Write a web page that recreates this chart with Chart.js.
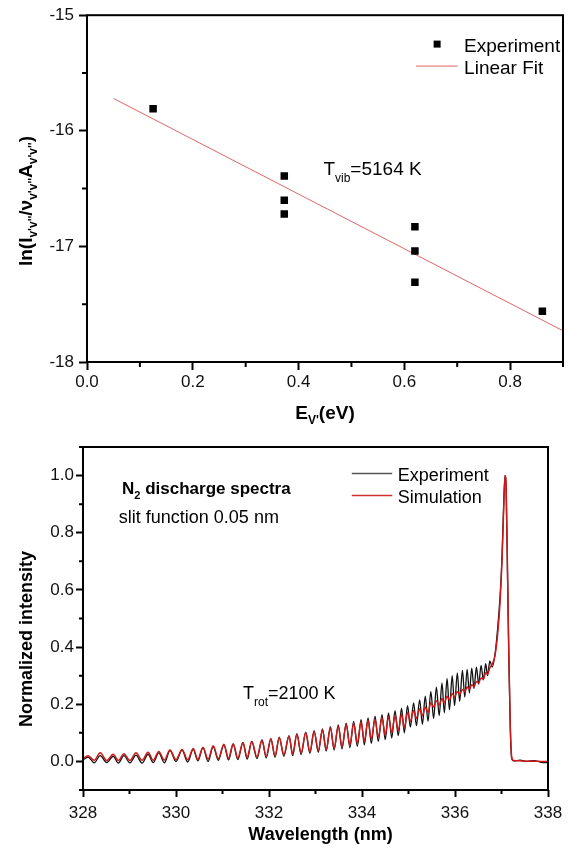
<!DOCTYPE html>
<html>
<head>
<meta charset="utf-8">
<script src="https://cdn.jsdelivr.net/npm/chart.js@4.4.1/dist/chart.umd.min.js"></script>
<style>
  html, body { margin: 0; padding: 0; background: #fff; }
  #top { position: absolute; left: 0; top: 0; width: 574px; height: 425px; }
  #bottom { position: absolute; left: 0; top: 425px; width: 574px; height: 424px; }
</style>
</head>
<body>
<div id="top"><canvas id="vib"></canvas></div>
<div id="bottom"><canvas id="spec"></canvas></div>
<script>
// Boltzmann plot (top)
const expE = [0.125, 0.373, 0.373, 0.373, 0.62, 0.62, 0.62, 0.861]
const expLn = [-15.81, -16.39, -16.60, -16.72, -16.83, -17.04, -17.31, -17.56]
const fitE = [0.05, 0.9]
const fitLn = [-15.72, -17.73]
const vibXTicks = [0, 0.2, 0.4, 0.6, 0.8]
const vibXMinor = [0.1, 0.3, 0.5, 0.7, 0.9]
const vibYTicks = [-18, -17, -16, -15]
const vibYMinor = [-17.5, -16.5, -15.5]

// N2 spectrum (bottom), peaks and troughs
const wl = [
  328.00, 328.11, 328.24, 328.37, 328.51, 328.65, 328.76, 328.88, 329.01, 329.14,
  329.27, 329.40, 329.51, 329.63, 329.75, 329.87, 330.00, 330.13, 330.25, 330.37,
  330.47, 330.58, 330.69, 330.80, 330.91, 331.03, 331.13, 331.23, 331.33, 331.44,
  331.53, 331.63, 331.74, 331.85, 331.94, 332.04, 332.13, 332.22, 332.32, 332.43,
  332.51, 332.60, 332.69, 332.79, 332.88, 332.97, 333.06, 333.15, 333.23, 333.32,
  333.40, 333.49, 333.57, 333.66, 333.74, 333.82, 333.90, 333.98, 334.05, 334.13,
  334.20, 334.28, 334.35, 334.43, 334.50, 334.57, 334.64, 334.71, 334.78, 334.85,
  334.91, 334.98, 335.04, 335.11, 335.17, 335.24, 335.30, 335.36, 335.42, 335.48,
  335.54, 335.60, 335.66, 335.72, 335.77, 335.83, 335.88, 335.94, 335.99, 336.05,
  336.10, 336.16, 336.21, 336.26, 336.31, 336.36, 336.41, 336.46, 336.51, 336.56,
  336.61, 336.66, 336.70, 336.75, 336.80, 336.86, 336.92, 336.97, 337.01, 337.04,
  337.075, 337.10, 337.13, 337.16, 337.19, 337.22, 337.26, 337.40, 337.55, 337.70,
  337.85, 338.00
]
const simInt = [
  0.010, 0.020, 0.004, 0.030, 0.003, 0.025, 0.003, 0.027, 0.003, 0.030,
  0.004, 0.032, 0.004, 0.035, 0.005, 0.040, 0.006, 0.042, 0.006, 0.045,
  0.007, 0.050, 0.008, 0.055, 0.010, 0.060, 0.011, 0.062, 0.012, 0.066,
  0.014, 0.070, 0.016, 0.074, 0.018, 0.078, 0.020, 0.083, 0.024, 0.088,
  0.027, 0.095, 0.030, 0.100, 0.034, 0.105, 0.038, 0.110, 0.042, 0.118,
  0.046, 0.122, 0.052, 0.128, 0.058, 0.133, 0.064, 0.138, 0.070, 0.143,
  0.078, 0.147, 0.085, 0.152, 0.092, 0.156, 0.100, 0.160, 0.108, 0.165,
  0.117, 0.172, 0.140, 0.178, 0.150, 0.184, 0.160, 0.190, 0.172, 0.205,
  0.190, 0.212, 0.197, 0.220, 0.205, 0.228, 0.215, 0.238, 0.225, 0.245,
  0.235, 0.252, 0.243, 0.260, 0.252, 0.268, 0.262, 0.280, 0.275, 0.292,
  0.288, 0.310, 0.305, 0.328, 0.340, 0.370, 0.450, 0.560, 0.700, 0.850,
  1.000, 0.960, 0.660, 0.350, 0.120, 0.015, 0.003, 0.002, 0.001, 0.001,
  0.000, 0.000
]
const expInt = [
  0.005, 0.015, -0.005, 0.020, -0.004, 0.018, -0.006, 0.020, -0.005, 0.022,
  -0.006, 0.025, -0.004, 0.030, -0.005, 0.038, 0.000, 0.040, -0.002, 0.042,
  0.002, 0.048, 0.000, 0.052, 0.004, 0.058, 0.005, 0.060, 0.006, 0.066,
  0.008, 0.070, 0.010, 0.075, 0.012, 0.080, 0.014, 0.085, 0.018, 0.090,
  0.020, 0.097, 0.024, 0.102, 0.028, 0.108, 0.032, 0.114, 0.036, 0.122,
  0.040, 0.128, 0.044, 0.134, 0.048, 0.140, 0.053, 0.146, 0.058, 0.152,
  0.063, 0.158, 0.070, 0.164, 0.076, 0.170, 0.082, 0.178, 0.090, 0.186,
  0.100, 0.195, 0.120, 0.205, 0.125, 0.215, 0.130, 0.228, 0.140, 0.245,
  0.150, 0.260, 0.160, 0.275, 0.170, 0.290, 0.180, 0.300, 0.195, 0.310,
  0.210, 0.318, 0.225, 0.322, 0.240, 0.326, 0.255, 0.330, 0.270, 0.336,
  0.285, 0.342, 0.300, 0.352, 0.330, 0.375, 0.470, 0.580, 0.710, 0.860,
  1.000, 0.950, 0.650, 0.340, 0.110, 0.010, 0.002, 0.004, 0.000, 0.003,
  -0.003, -0.004
]
const specXTicks = [328, 330, 332, 334, 336, 338]
const specXMinor = [329, 331, 333, 335, 337]
const specYTicks = [0, 0.2, 0.4, 0.6, 0.8, 1.0]
const specYMinor = [-0.1, 0.1, 0.3, 0.5, 0.7, 0.9, 1.1]

const FONT = "'Liberation Sans', Arial, sans-serif"
Chart.defaults.font.family = FONT
Chart.defaults.color = '#000'

const tickGrid = (len) => ({
  display: true,
  drawOnChartArea: false,
  drawTicks: true,
  tickLength: len,
  tickWidth: 2,
  tickColor: '#000',
  color: '#000'
})

// draw text made of pieces, some lowered as subscripts
// part = [text, size, bold, dy]
function drawParts (ctx, x, y, parts, align) {
  let w = 0
  parts.forEach(p => {
    ctx.font = (p[2] ? 'bold ' : '') + p[1] + 'px ' + FONT
    w += ctx.measureText(p[0]).width
  })
  let cx = align === 'center' ? x - w / 2 : x
  ctx.textAlign = 'left'
  ctx.textBaseline = 'alphabetic'
  parts.forEach(p => {
    ctx.font = (p[2] ? 'bold ' : '') + p[1] + 'px ' + FONT
    ctx.fillText(p[0], cx, y + (p[3] || 0))
    cx += ctx.measureText(p[0]).width
  })
}

function drawFrame (chart, xMinor, yMinor, len) {
  const { ctx, chartArea: a, scales: { x, y } } = chart
  ctx.strokeStyle = '#000'
  ctx.lineWidth = 2
  ctx.strokeRect(a.left, a.top, a.right - a.left, a.bottom - a.top)
  ctx.beginPath()
  xMinor.forEach(v => {
    const px = x.getPixelForValue(v)
    ctx.moveTo(px, a.bottom)
    ctx.lineTo(px, a.bottom + len)
  })
  yMinor.forEach(v => {
    const py = y.getPixelForValue(v)
    ctx.moveTo(a.left, py)
    ctx.lineTo(a.left - len, py)
  })
  ctx.stroke()
}

const vibDecor = {
  id: 'vibDecor',
  afterDraw (chart) {
    const { ctx, chartArea: a, scales: { x, y } } = chart
    ctx.save()
    drawFrame(chart, vibXMinor, vibYMinor, 5)
    ctx.fillStyle = '#000'

    // legend
    ctx.fillRect(x.getPixelForValue(0.662) - 3.5, y.getPixelForValue(-15.25) - 3.5, 7, 7)
    ctx.strokeStyle = '#e06666'
    ctx.lineWidth = 1
    ctx.beginPath()
    ctx.moveTo(x.getPixelForValue(0.622), y.getPixelForValue(-15.44))
    ctx.lineTo(x.getPixelForValue(0.701), y.getPixelForValue(-15.44))
    ctx.stroke()
    drawParts(ctx, x.getPixelForValue(0.713), y.getPixelForValue(-15.26) + 7, [['Experiment', 19]])
    drawParts(ctx, x.getPixelForValue(0.713), y.getPixelForValue(-15.445) + 7, [['Linear Fit', 19]])

    drawParts(ctx, x.getPixelForValue(0.447), y.getPixelForValue(-16.325) + 7,
      [['T', 19], ['vib', 12, false, 7], ['=5164 K', 19]])

    // axis titles
    drawParts(ctx, (a.left + a.right) / 2, 419,
      [['E', 19, true], ["V'", 12, true, 5], ['(eV)', 19, true]], 'center')
    ctx.translate(32, 201)
    ctx.rotate(-Math.PI / 2)
    drawParts(ctx, 0, 0, [
      ['ln(I', 19, true], ["v'v''", 12, true, 5], ['/\u03bd', 19, true],
      ["v'v''", 12, true, 5], ['A', 19, true], ["v'v''", 12, true, 5], [')', 19, true]
    ], 'center')
    ctx.restore()
  }
}

new Chart(document.getElementById('vib'), {
  type: 'scatter',
  data: {
    datasets: [
      {
        label: 'Experiment',
        data: expE.map((e, i) => ({ x: e, y: expLn[i] })),
        pointStyle: 'rect',
        pointRadius: 5.3,
        backgroundColor: '#000',
        borderColor: '#000',
        borderWidth: 0
      },
      {
        label: 'Linear Fit',
        type: 'line',
        data: fitE.map((e, i) => ({ x: e, y: fitLn[i] })),
        borderColor: '#e06666',
        borderWidth: 1,
        pointRadius: 0,
        fill: false
      }
    ]
  },
  options: {
    responsive: true,
    maintainAspectRatio: false,
    animation: false,
    devicePixelRatio: 1,
    layout: { padding: { top: 11, right: 11, left: 0, bottom: 0 } },
    plugins: { legend: { display: false }, tooltip: { enabled: false } },
    scales: {
      x: {
        type: 'linear',
        min: 0,
        max: 0.9,
        afterFit: s => { s.height = 63 },
        afterBuildTicks: s => { s.ticks = vibXTicks.map(v => ({ value: v })) },
        ticks: { callback: v => v.toFixed(1), padding: 2, font: { size: 17 }, color: '#111', maxRotation: 0 },
        grid: tickGrid(8),
        border: { display: false }
      },
      y: {
        type: 'linear',
        min: -18,
        max: -15,
        afterFit: s => { s.width = 87 },
        afterBuildTicks: s => { s.ticks = vibYTicks.map(v => ({ value: v })) },
        ticks: { callback: v => String(v), padding: 5, font: { size: 17 }, color: '#111' },
        grid: tickGrid(8),
        border: { display: false }
      }
    }
  },
  plugins: [vibDecor]
})

const specDecor = {
  id: 'specDecor',
  afterDraw (chart) {
    const { ctx, chartArea: a, scales: { x, y } } = chart
    ctx.save()
    drawFrame(chart, specXMinor, specYMinor, 4)
    ctx.fillStyle = '#000'

    // legend
    ctx.lineWidth = 1.5
    ctx.strokeStyle = '#555'
    ctx.beginPath()
    ctx.moveTo(x.getPixelForValue(333.78), y.getPixelForValue(1.007))
    ctx.lineTo(x.getPixelForValue(334.65), y.getPixelForValue(1.007))
    ctx.stroke()
    ctx.strokeStyle = '#d03030'
    ctx.beginPath()
    ctx.moveTo(x.getPixelForValue(333.78), y.getPixelForValue(0.93))
    ctx.lineTo(x.getPixelForValue(334.65), y.getPixelForValue(0.93))
    ctx.stroke()
    drawParts(ctx, x.getPixelForValue(334.77), y.getPixelForValue(1.007) + 7, [['Experiment', 18]])
    drawParts(ctx, x.getPixelForValue(334.77), y.getPixelForValue(0.93) + 7, [['Simulation', 18]])

    drawParts(ctx, x.getPixelForValue(328.84), y.getPixelForValue(0.958) + 6,
      [['N', 17, true], ['2', 11, true, 5], [' discharge spectra', 17, true]])
    drawParts(ctx, x.getPixelForValue(328.77), y.getPixelForValue(0.856) + 6, [['slit function 0.05 nm', 18]])
    drawParts(ctx, x.getPixelForValue(331.44), y.getPixelForValue(0.239) + 6,
      [['T', 18], ['rot', 12, false, 7], ['=2100 K', 18]])

    // axis titles
    drawParts(ctx, (a.left + a.right) / 2 + 5, 415, [['Wavelength (nm)', 18, true]], 'center')
    ctx.translate(32, 214)
    ctx.rotate(-Math.PI / 2)
    drawParts(ctx, 0, 0, [['Normalized intensity', 18, true]], 'center')
    ctx.restore()
  }
}

new Chart(document.getElementById('spec'), {
  type: 'line',
  data: {
    datasets: [
      {
        label: 'Simulation',
        data: wl.map((w, i) => ({ x: w, y: simInt[i] })),
        borderColor: '#cc1a1a',
        borderWidth: 1.5,
        pointRadius: 0,
        cubicInterpolationMode: 'monotone',
        fill: false
      },
      {
        label: 'Experiment',
        data: wl.map((w, i) => ({ x: w, y: expInt[i] })),
        borderColor: '#111',
        borderWidth: 1.3,
        pointRadius: 0,
        cubicInterpolationMode: 'monotone',
        fill: false
      }
    ]
  },
  options: {
    responsive: true,
    maintainAspectRatio: false,
    animation: false,
    devicePixelRatio: 1,
    layout: { padding: { top: 22, right: 26, left: 0, bottom: 0 } },
    plugins: { legend: { display: false }, tooltip: { enabled: false } },
    scales: {
      x: {
        type: 'linear',
        min: 328,
        max: 338,
        afterFit: s => { s.height = 59 },
        afterBuildTicks: s => { s.ticks = specXTicks.map(v => ({ value: v })) },
        ticks: { callback: v => String(v), padding: 6, font: { size: 17 }, color: '#111', maxRotation: 0 },
        grid: tickGrid(7),
        border: { display: false }
      },
      y: {
        type: 'linear',
        min: -0.1,
        max: 1.1,
        afterFit: s => { s.width = 83 },
        afterBuildTicks: s => { s.ticks = specYTicks.map(v => ({ value: v })) },
        ticks: { callback: v => v.toFixed(1), padding: 2, font: { size: 17 }, color: '#111' },
        grid: tickGrid(7),
        border: { display: false }
      }
    }
  },
  plugins: [specDecor]
})
</script>
</body>
</html>
